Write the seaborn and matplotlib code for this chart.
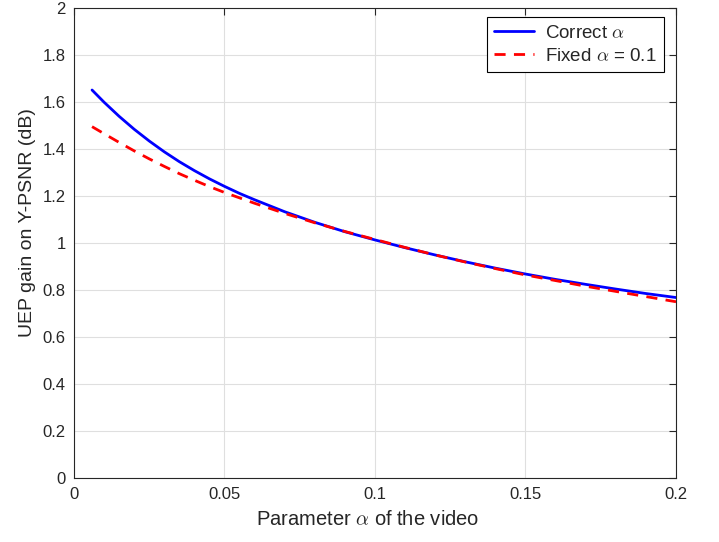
import numpy as np
import pandas as pd
import matplotlib
matplotlib.use("Agg")
import matplotlib.pyplot as plt
import seaborn as sns

alpha_vals = [0.006, 0.01, 0.015, 0.02, 0.025, 0.03, 0.035, 0.04, 0.045, 0.05,
              0.055, 0.06, 0.07, 0.08, 0.09, 0.10, 0.11, 0.12, 0.13, 0.14,
              0.15, 0.16, 0.17, 0.18, 0.19, 0.20]
gain_correct = [1.653, 1.601, 1.541, 1.486, 1.436, 1.390, 1.348, 1.310, 1.275, 1.243,
                1.213, 1.186, 1.135, 1.090, 1.050, 1.015, 0.982, 0.951, 0.922, 0.895,
                0.870, 0.847, 0.826, 0.806, 0.787, 0.770]
gain_fixed = [1.497, 1.467, 1.430, 1.394, 1.360, 1.328, 1.297, 1.269, 1.242, 1.217,
              1.194, 1.171, 1.128, 1.088, 1.051, 1.017, 0.983, 0.951, 0.921, 0.893,
              0.866, 0.842, 0.818, 0.796, 0.774, 0.752]
labels = [r"Correct $\alpha$", r"Fixed $\alpha$ = 0.1"]
x_ticks = [0, 0.05, 0.1, 0.15, 0.2]
x_tick_labels = ["0", "0.05", "0.1", "0.15", "0.2"]
y_ticks = [0, 0.2, 0.4, 0.6, 0.8, 1, 1.2, 1.4, 1.6, 1.8, 2]
y_tick_labels = ["0", "0.2", "0.4", "0.6", "0.8", "1", "1.2", "1.4", "1.6", "1.8", "2"]

df = pd.DataFrame({
    "alpha": alpha_vals * 2,
    "gain": gain_correct + gain_fixed,
    "series": [labels[0]] * len(alpha_vals) + [labels[1]] * len(alpha_vals),
})

sns.set_style("white")
plt.rcParams["font.family"] = ["Liberation Sans", "DejaVu Sans"]
plt.rcParams["mathtext.fontset"] = "cm"

fig = plt.figure(figsize=(7.19, 5.42), dpi=100)
ax = fig.add_axes([0.1029, 0.1172, 0.8373, 0.8672])

sns.lineplot(data=df, x="alpha", y="gain", hue="series", style="series",
             palette={labels[0]: "#0000ff", labels[1]: "#ff0000"},
             dashes={labels[0]: "", labels[1]: (4, 3)},
             linewidth=2, ax=ax)

ax.set_xlim(0, 0.2)
ax.set_ylim(0, 2)
ax.set_xticks(x_ticks)
ax.set_xticklabels(x_tick_labels)
ax.set_yticks(y_ticks)
ax.set_yticklabels(y_tick_labels)
ax.grid(True, color="#dfdfdf", linewidth=0.8)
ax.set_axisbelow(True)
for s in ax.spines.values():
    s.set_color("#262626")
    s.set_linewidth(0.8)
ax.tick_params(direction="in", length=5, width=0.8, colors="#262626",
               top=True, right=True, labelsize=12, labelcolor="#262626", pad=6)
ax.set_xlabel(r"Parameter $\alpha$ of the video", fontsize=14.5, color="#262626")
ax.xaxis.set_label_coords(0.487, -0.068)
ax.set_ylabel("UEP gain on Y-PSNR (dB)", fontsize=14, color="#262626")
ax.yaxis.set_label_coords(-0.063, 0.545)

leg = ax.legend(loc="upper right", bbox_to_anchor=(0.980, 0.981), borderaxespad=0,
                fontsize=13.5, frameon=True, fancybox=False,
                edgecolor="black", framealpha=1, handlelength=2.1,
                borderpad=0.4, labelspacing=0.3, handletextpad=0.6)
leg.get_frame().set_linewidth(0.8)

fig.savefig("out.png", dpi=100)
